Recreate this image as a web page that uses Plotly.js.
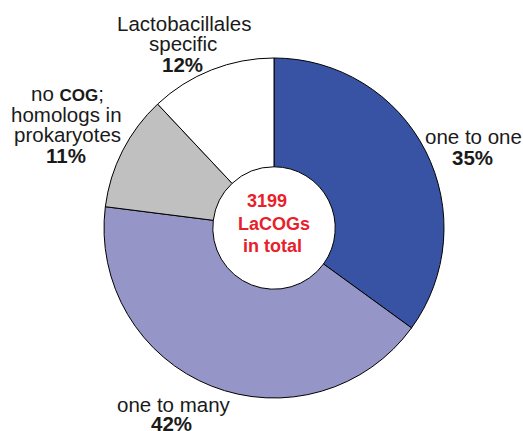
<!DOCTYPE html>
<html>
<head>
<meta charset="utf-8">
<script src="https://cdn.plot.ly/plotly-3.0.1.min.js"></script>
<style>html,body{margin:0;padding:0;background:#fff;}#chart{width:523px;height:431px;}</style>
</head>
<body>
<div id="chart"></div>
<script>
// Data
const categories = ["one to one", "one to many", "no COG; homologs in prokaryotes", "Lactobacillales specific"];
const values = [35, 42, 11, 12];
const percentLabels = ["35%", "42%", "11%", "12%"];
const centerLines = ["3199", "LaCOGs", "in total"];

// Styles
const colors = ["#3953a4", "#9595c8", "#c0c0c0", "#ffffff"];
const W = 523, H = 431;
const FONT = '"Liberation Sans", Arial, sans-serif';
const txt = "#1a1a1a";

function px(x){ return x / W; }
function py(y){ return 1 - y / H; }

const trace = {
  type: "pie",
  labels: categories,
  values: values,
  sort: false,
  direction: "clockwise",
  rotation: 0,
  hole: 0.36,
  textinfo: "none",
  hoverinfo: "label+percent",
  marker: { colors: colors, line: { color: "#000000", width: 1 } },
  domain: { x: [px(104), px(444)], y: [1 - 398 / H, 1 - 58 / H] },
  showlegend: false
};

// label lines: [text, x, y, size, bold, color]
const lines = [
  [categories[3].split(" ")[0], 183.5, 23, 20.5, false, txt],
  [categories[3].split(" ")[1], 183, 44, 20.5, false, txt],
  [percentLabels[3], 182, 64.5, 20.5, true, txt],
  ["no <span style=\"font-size:17px\"><b>COG</b></span>;", 67.5, 93.5, 20.5, false, txt],
  ["homologs in", 66.5, 114.5, 20.5, false, txt],
  ["prokaryotes", 67.5, 135, 20.5, false, txt],
  [percentLabels[2], 66, 155.5, 20.5, true, txt],
  [categories[0], 473.5, 136, 20.5, false, txt],
  [percentLabels[0], 472.5, 157, 20.5, true, txt],
  [categories[1], 173.5, 404, 20.5, false, txt],
  [percentLabels[1], 171, 423.5, 20.5, true, txt],
  [centerLines[0], 267, 201.5, 18, true, "#e8202a"],
  [centerLines[1], 273.5, 224.5, 18, true, "#e8202a"],
  [centerLines[2], 272, 245.5, 18, true, "#e8202a"]
];

const annotations = lines.map(l => ({
  text: l[4] ? "<b>" + l[0] + "</b>" : l[0],
  x: px(l[1]), y: py(l[2]),
  xref: "paper", yref: "paper",
  xanchor: "center", yanchor: "middle",
  showarrow: false,
  font: { family: FONT, size: l[3], color: l[5] }
}));

const layout = {
  width: W, height: H,
  margin: { l: 0, r: 0, t: 0, b: 0 },
  paper_bgcolor: "#ffffff",
  plot_bgcolor: "#ffffff",
  annotations: annotations,
  showlegend: false
};

Plotly.newPlot("chart", [trace], layout, { displayModeBar: false, staticPlot: true });
</script>
</body>
</html>
